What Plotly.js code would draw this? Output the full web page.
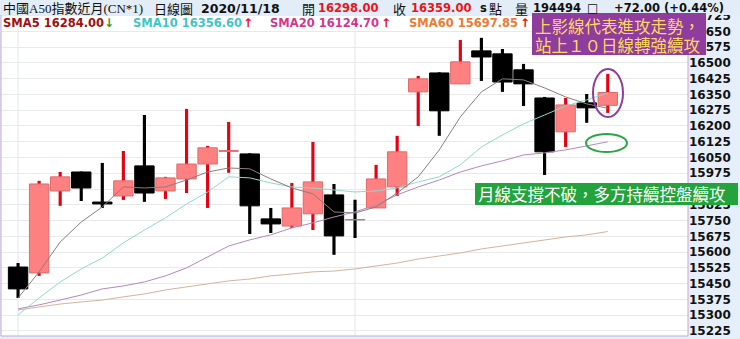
<!DOCTYPE html>
<html><head><meta charset="utf-8">
<script src="https://cdn.plot.ly/plotly-3.0.1.min.js"></script>
<style>html,body{margin:0;padding:0;background:#fff;} #chart{width:740px;height:339px;}</style>
</head><body><div id="chart"></div>
<script>
// ---- data ----
const opens  = [15529,15501,15891,15981,15838,15867,16010,15891,15948,16019,16079,16067,15758,15724,15782,15872,15753,15810,15910,16362,16452,16400,16557,16543,16467,16333,16172,16310,16298];
const highs  = [15548,15939,15981,15983,16024,16081,16252,15958,16281,16105,16219,16070,15810,15929,16124,15924,15849,16015,16153,16438,16455,16609,16619,16566,16495,16338,16333,16352,16448];
const lows   = [15382,15487,15820,15843,15810,15848,15839,15853,15881,15810,15977,15686,15691,15715,15705,15587,15667,15810,15867,16200,16153,16400,16414,16362,16295,15967,16100,16215,16262];
const closes = [15425,15924,15958,15905,15829,15939,15881,15953,16019,16096,16083,15820,15734,15810,15934,15677,15753,15948,16077,16424,16272,16505,16528,16409,16400,16077,16300,16286,16359];
const sma5  = [15382,15506,15648,15743,15815,15910,15905,15910,15943,15981,16000,15996,15948,15905,15877,15791,15786,15815,15881,15958,16086,16243,16362,16424,16419,16381,16338,16305,16284];
const sma10 = [15301,15382,15458,15520,15572,15644,15705,15763,15829,15886,15958,15953,15929,15910,15905,15896,15886,15891,15905,15934,15958,16015,16100,16157,16210,16252,16295,16324,16356.6];
const sma20 = [15330,15349,15372,15396,15425,15439,15458,15487,15525,15577,15629,15658,15682,15715,15739,15767,15791,15824,15872,15910,15943,15981,16010,16034,16062,16072,16086,16105,16124.7];
const sma60 = [15325,15339,15353,15363,15372,15387,15401,15420,15434,15449,15463,15472,15487,15496,15506,15510,15520,15534,15548,15567,15582,15596,15615,15629,15644,15658,15672,15682,15697.85];
const monthStartIdx = [0, 16];
const yTick0 = 15225, yTickStep = 75;

// ---- styles ----
const UP_FILL = '#ff8080', UP_LINE = '#e06a6a', UP_WICK = '#e60012';
const DN = '#000000', DOJI = '#8a8a8a';
const idx = opens.map((_, i) => i);
const dir = idx.map(i => closes[i] > opens[i] ? 1 : (closes[i] < opens[i] ? -1 : 0));

const wick = {
  type: 'bar', x: idx, base: lows, y: idx.map(i => highs[i] - lows[i]), width: 0.15,
  marker: {color: dir.map(d => d > 0 ? UP_WICK : DN), line: {width: 0}}, hoverinfo: 'skip'
};
const body = {
  type: 'bar', x: idx, base: idx.map(i => Math.min(opens[i], closes[i])),
  y: idx.map(i => Math.max(Math.abs(closes[i] - opens[i]), 1.5)), width: 0.92,
  marker: {color: dir.map(d => d > 0 ? UP_FILL : (d < 0 ? DN : DOJI)),
           line: {width: 1, color: dir.map(d => d > 0 ? UP_LINE : (d < 0 ? DN : DOJI))}},
  hoverinfo: 'skip'
};
function line(y, color) { return {type: 'scatter', mode: 'lines', x: idx, y: y, line: {color: color, width: 1}, hoverinfo: 'skip'}; }
const traces = [wick, body, line(sma60, '#d3b49c'), line(sma20, '#b688b8'), line(sma10, '#8fd9ce'), line(sma5, '#8c7d7d')];

// pixel helpers for overlays
const PL = 1, PR = 688, PT = 0, PB = 336;
const px = x => (x - PL) / (PR - PL);
const py = y => (PB - y) / (PB - PT);

const shapes = [
  {type: 'rect', xref: 'paper', yref: 'paper', x0: 0, x1: 1, y0: 0, y1: 1, line: {color: '#c5a5d5', width: 1}, layer: 'above'},
  ...monthStartIdx.map(i => ({type: 'line', xref: 'x', yref: 'paper', x0: i, x1: i, y0: 0, y1: 1, line: {color: '#dde7ef', width: 1}, layer: 'below'})),
  {type: 'rect', xref: 'paper', yref: 'paper', x0: px(0), x1: px(740), y0: py(15), y1: py(0), fillcolor: '#e3edf8', line: {width: 0}, layer: 'above'},
  {type: 'rect', xref: 'paper', yref: 'paper', x0: px(532), x1: px(706), y0: py(55), y1: py(13), fillcolor: '#8e3c9e', line: {width: 0}, layer: 'above'},
  {type: 'rect', xref: 'paper', yref: 'paper', x0: px(475), x1: px(738), y0: py(205), y1: py(183), fillcolor: '#22a33c', line: {width: 0}, layer: 'above'},
  {type: 'circle', xref: 'paper', yref: 'paper', x0: px(593), x1: px(623), y0: py(117), y1: py(69), line: {color: '#8e3c9e', width: 2}, layer: 'above'},
  {type: 'circle', xref: 'paper', yref: 'paper', x0: px(586), x1: px(627), y0: py(152), y1: py(134), line: {color: '#27a844', width: 2}, layer: 'above'}
];

const SERIF = 'Liberation Serif, Noto Sans CJK TC';
const CJK = 'Noto Sans CJK TC';
const NUM = 'DejaVu Sans';
function t(x, y, text, fam, size, color, bold) {
  return {xref: 'paper', yref: 'paper', x: px(x), y: py(y), xanchor: 'left', yanchor: 'middle', showarrow: false,
          text: text, borderpad: 0, font: {family: fam, size: size, color: color, weight: bold ? 'bold' : 'normal'}};
}
const annotations = [
  t(2, 8, '中國A50指數近月(CN*1)', SERIF, 13, '#111'),
  t(153, 8, '日線圖', CJK, 13, '#111'),
  t(200, 8, '2020/11/18', NUM, 12.5, '#111', true),
  t(301, 8, '開', CJK, 13, '#111'),
  t(317, 8, '16298.00', NUM, 11.5, '#e8141c', true),
  t(392, 8, '收', CJK, 13, '#111'),
  t(410, 8, '16359.00', NUM, 11.5, '#e8141c', true),
  t(479, 8, 's', NUM, 11.5, '#111', true),
  t(488, 8, '點', CJK, 13, '#111'),
  t(514, 8, '量', CJK, 13, '#111'),
  t(532, 8, '194494', NUM, 11.5, '#111', true),
  t(586, 8, '□', NUM, 12, '#111'),
  t(613, 8, '+72.00 (+0.44%)', NUM, 11.5, '#111', true),
  t(2, 23.5, 'SMA5 16284.00', NUM, 11.5, '#a0100f', true),
  t(103, 23.5, '↓', NUM, 12, '#2a9a2a', true),
  t(132, 23.5, 'SMA10 16356.60', NUM, 11.5, '#3cc6c6', true),
  t(242, 23.5, '↑', NUM, 12, '#e8141c', true),
  t(269, 23.5, 'SMA20 16124.70', NUM, 11.5, '#d4368e', true),
  t(380, 23.5, '↑', NUM, 12, '#e8141c', true),
  t(408, 23.5, 'SMA60 15697.85', NUM, 11.5, '#ee7a34', true),
  t(519, 23.5, '↑', NUM, 12, '#e8141c', true),
  t(534, 26, '上影線代表進攻走勢，', CJK, 16.5, '#ffd75e'),
  t(534, 45, '站上１０日線轉強續攻', CJK, 16.5, '#ffd75e'),
  t(477, 194, '月線支撐不破，多方持續控盤續攻', CJK, 16.5, '#ffffff')
];

const layout = {
  width: 740, height: 339, margin: {l: PL, r: 740 - PR, t: PT, b: 339 - PB, pad: 0},
  paper_bgcolor: '#e6eff9', plot_bgcolor: '#ffffff', showlegend: false, barmode: 'overlay',
  xaxis: {range: [-0.81, 31.81], visible: false, fixedrange: true},
  yaxis: {side: 'right', range: [15201, 16799], tickmode: 'linear', tick0: yTick0, dtick: yTickStep, tickformat: 'd',
          showgrid: true, gridcolor: '#e9e9e9', gridwidth: 1, zeroline: false, showline: false, ticks: '',
          tickfont: {family: NUM, size: 12, color: '#111', weight: 'bold'}, fixedrange: true},
  shapes: shapes, annotations: annotations
};
Plotly.newPlot('chart', traces, layout, {displayModeBar: false, staticPlot: true});
</script></body></html>
